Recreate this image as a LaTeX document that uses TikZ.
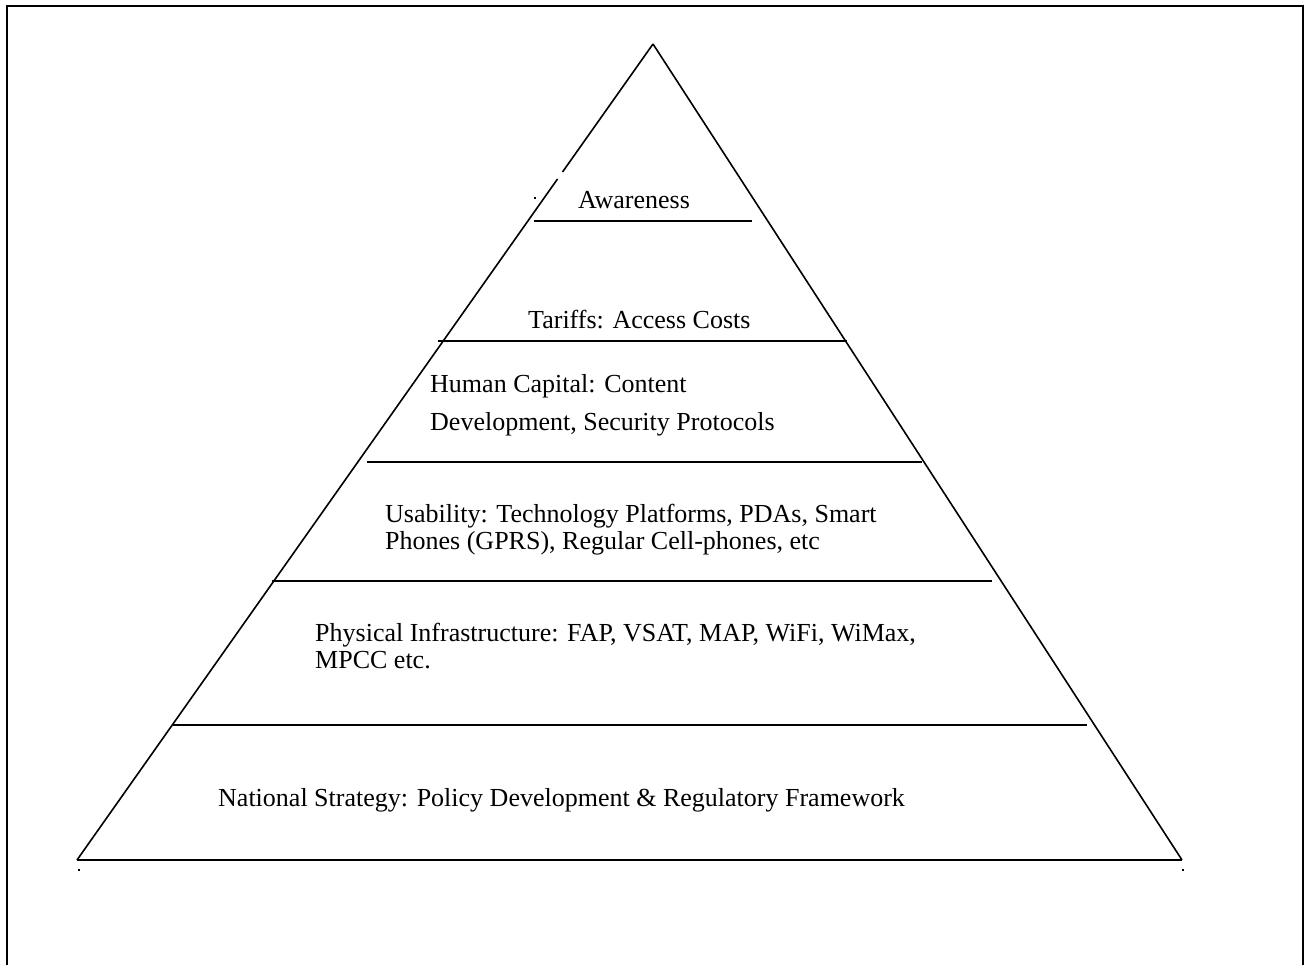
\documentclass[tikz,border=0pt]{standalone}
\usepackage{fontspec}
\setmainfont{Liberation Serif}
\begin{document}
\begin{tikzpicture}[x=1pt,y=-1pt,
  frame/.style={line width=2.6pt},
  side/.style={line width=1.6pt},
  tier/.style={line width=1.1pt},
  tierend/.style={line width=1.8pt},
  label/.style={anchor=west,inner sep=0pt,align=left,
    font=\fontsize{26}{27}\selectfont},
  widelabel/.style={label,font=\fontsize{26}{38}\selectfont},
  speck/.style={fill=black}]
\useasboundingbox (0,0) rectangle (1305,964);

% open frame around the figure
\draw[frame] (7,975) -- (7,6) -- (1303,6) -- (1303,975);

% pyramid corners
\coordinate (apex) at (653,44);
\coordinate (bl) at (77,860);
\coordinate (br) at (1182,860);
\coordinate (gapA) at (562.5,172);
\coordinate (gapB) at (557.5,179);

% sides (the left one has a small break) and base
\draw[side] (apex) -- (gapA);
\draw[side] (gapB) -- (bl);
\draw[side] (apex) -- (br);
\draw[side] (bl) -- (br);

% tier dividers: thin middle, heavier ends
\draw[tier] (534,221) -- (752,221);
\draw[tierend] (534,221) -- (559,221) (727,221) -- (752,221);

\draw[tier] (438,341) -- (847,341);
\draw[tierend] (438,341) -- (510,341) (798,341) -- (847,341);

\draw[tier] (367,462) -- (922,462);
\draw[tierend] (367,462) -- (439,462) (851,462) -- (922,462);

\draw[tier] (272,581) -- (992,581);
\draw[tierend] (272,581) -- (367,581) (922,581) -- (992,581);

\draw[tier] (173,725) -- (1087,725);

% stray specks
\fill[speck] (534,197) rectangle (536,199);
\fill[speck] (78,869) rectangle (80,871);
\fill[speck] (1182,869) rectangle (1184,871);

% tier labels
\node[label] (awareness) at (578,200) {Awareness};
\node[label] (tariffs) at (528,320) {Tariffs: Access Costs};
\node[widelabel] (human) at (430,405) {Human Capital: Content\\Development, Security Protocols};
\node[label] (usability) at (385,530) {Usability: Technology Platforms, PDAs, Smart\\Phones (GPRS), Regular Cell-phones, etc};
\node[label] (physical) at (315,646) {Physical Infrastructure: FAP, VSAT, MAP, WiFi, WiMax,\\MPCC etc.};
\node[label] (national) at (218,800) {National Strategy: Policy Development \& Regulatory Framework};
\end{tikzpicture}
\end{document}
